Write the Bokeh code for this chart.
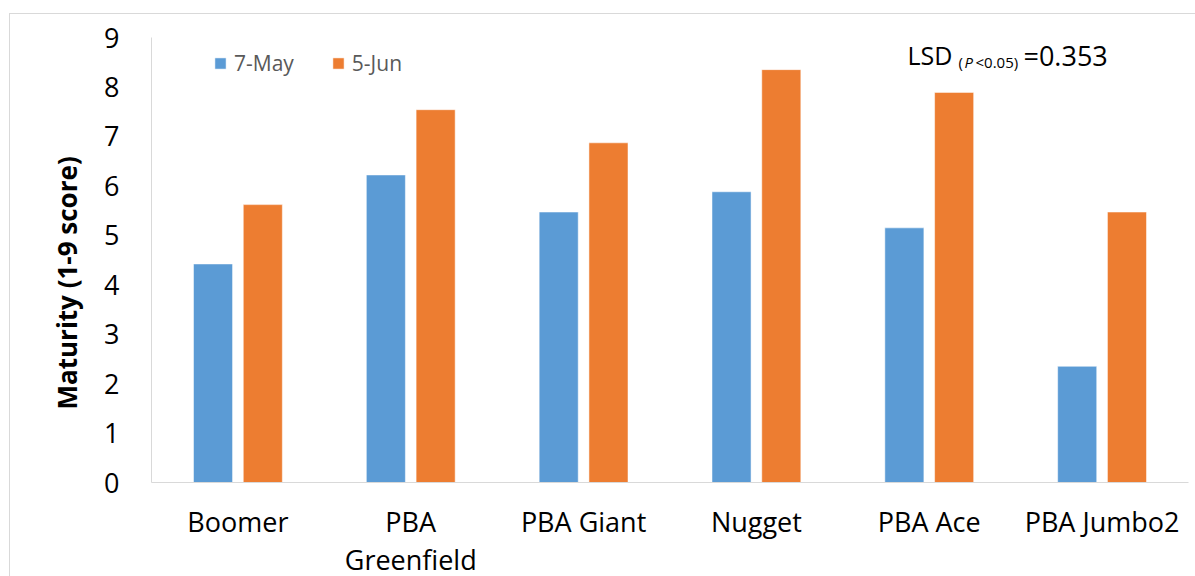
from bokeh.plotting import figure
from bokeh.models import (ColumnDataSource, FactorRange, Range1d, FixedTicker,
                          Legend, LegendItem, Label, Title)
from bokeh.transform import dodge
from bokeh.embed import file_html
from bokeh.resources import INLINE

# Maturity scores (1-9) of faba bean cultivars at two sowing dates
cultivars = ["Boomer", "PBA\nGreenfield", "PBA Giant", "Nugget", "PBA Ace", "PBA Jumbo2"]
series_names = ["7-May", "5-Jun"]
may7 = [4.42, 6.22, 5.47, 5.88, 5.15, 2.35]
jun5 = [5.62, 7.54, 6.87, 8.35, 7.89, 5.47]
y_ticks = [0, 1, 2, 3, 4, 5, 6, 7, 8, 9]
y_title = "Maturity (1-9 score)"
lsd = 0.353

BLUE = "#5B9BD5"
ORANGE = "#ED7D31"
AXIS_GREY = "#D9D9D9"
FONT = "Open Sans"

src = ColumnDataSource(dict(cultivar=cultivars, may7=may7, jun5=jun5))

p = figure(
    x_range=FactorRange(*cultivars, range_padding=0),
    y_range=Range1d(0, 9),
    frame_width=1037, frame_height=445,
    min_border_left=141, min_border_right=8,
    min_border_top=23, min_border_bottom=95,
    margin=(13, 0, 0, 9),
    styles={"border-top": "1px solid #D9D9D9", "border-left": "1px solid #D9D9D9"},
    output_backend="svg", toolbar_location=None,
)
p.outline_line_color = None
p.xgrid.grid_line_color = None
p.ygrid.grid_line_color = None

bar_w = 0.226
shift = 0.144
r_may = p.vbar(x=dodge("cultivar", -shift, range=p.x_range), top="may7", width=bar_w,
               source=src, fill_color=BLUE, line_color="white", line_alpha=0.5)
r_jun = p.vbar(x=dodge("cultivar", shift, range=p.x_range), top="jun5", width=bar_w,
               source=src, fill_color=ORANGE, line_color="white", line_alpha=0.5)

# axes
p.yaxis.ticker = FixedTicker(ticks=y_ticks)
p.yaxis.axis_line_color = AXIS_GREY
p.yaxis.major_tick_line_color = None
p.yaxis.minor_tick_line_color = None
p.yaxis.major_label_standoff = 26
p.yaxis.major_label_text_font = FONT
p.yaxis.major_label_text_font_size = "27px"
p.yaxis.major_label_text_color = "black"

p.xaxis.axis_line_color = AXIS_GREY
p.xaxis.major_tick_line_color = None
p.xaxis.minor_tick_line_color = None
p.xaxis.major_label_standoff = 14
p.xaxis.major_label_text_font = FONT
p.xaxis.major_label_text_font_size = "27px"
p.xaxis.major_label_text_color = "black"
p.xaxis.major_label_text_line_height = 1.03

# y-axis title in the left panel, starting a fixed distance above the baseline
p.add_layout(Title(text=y_title, align="left", offset=73, vertical_align="bottom",
                   standoff=34, text_font=FONT, text_font_size="26px",
                   text_font_style="bold", text_color="black"), "left")

# legend
legend = Legend(
    items=[LegendItem(label=series_names[0], renderers=[r_may]),
           LegendItem(label=series_names[1], renderers=[r_jun])],
    orientation="horizontal", location=(62, 405),
    glyph_width=14, glyph_height=14, label_standoff=7, spacing=37,
    padding=0, margin=0, border_line_color=None, background_fill_alpha=0,
    label_text_font=FONT, label_text_font_size="21px", label_text_color="#595959",
)
p.add_layout(legend)

# LSD annotation with subscripted significance level
lsd_x, lsd_y = 4.374, 8.414
parts = [
    ("LSD", 0, 11, "25px", "normal"),
    ("(", 51, 4, "15px", "normal"),
    ("P", 57, 4, "15px", "italic"),
    ("<0.05)", 68, 4, "15px", "normal"),
    (f"={lsd}", 116, 11, "27px", "normal"),
]
for txt, dx, dy, size, style in parts:
    p.add_layout(Label(x=lsd_x, y=lsd_y, x_offset=dx, y_offset=dy, text=txt,
                       text_font=FONT, text_font_size=size, text_font_style=style,
                       text_color="black", text_baseline="alphabetic"))

open("out.html", "w").write(file_html(p, INLINE))
